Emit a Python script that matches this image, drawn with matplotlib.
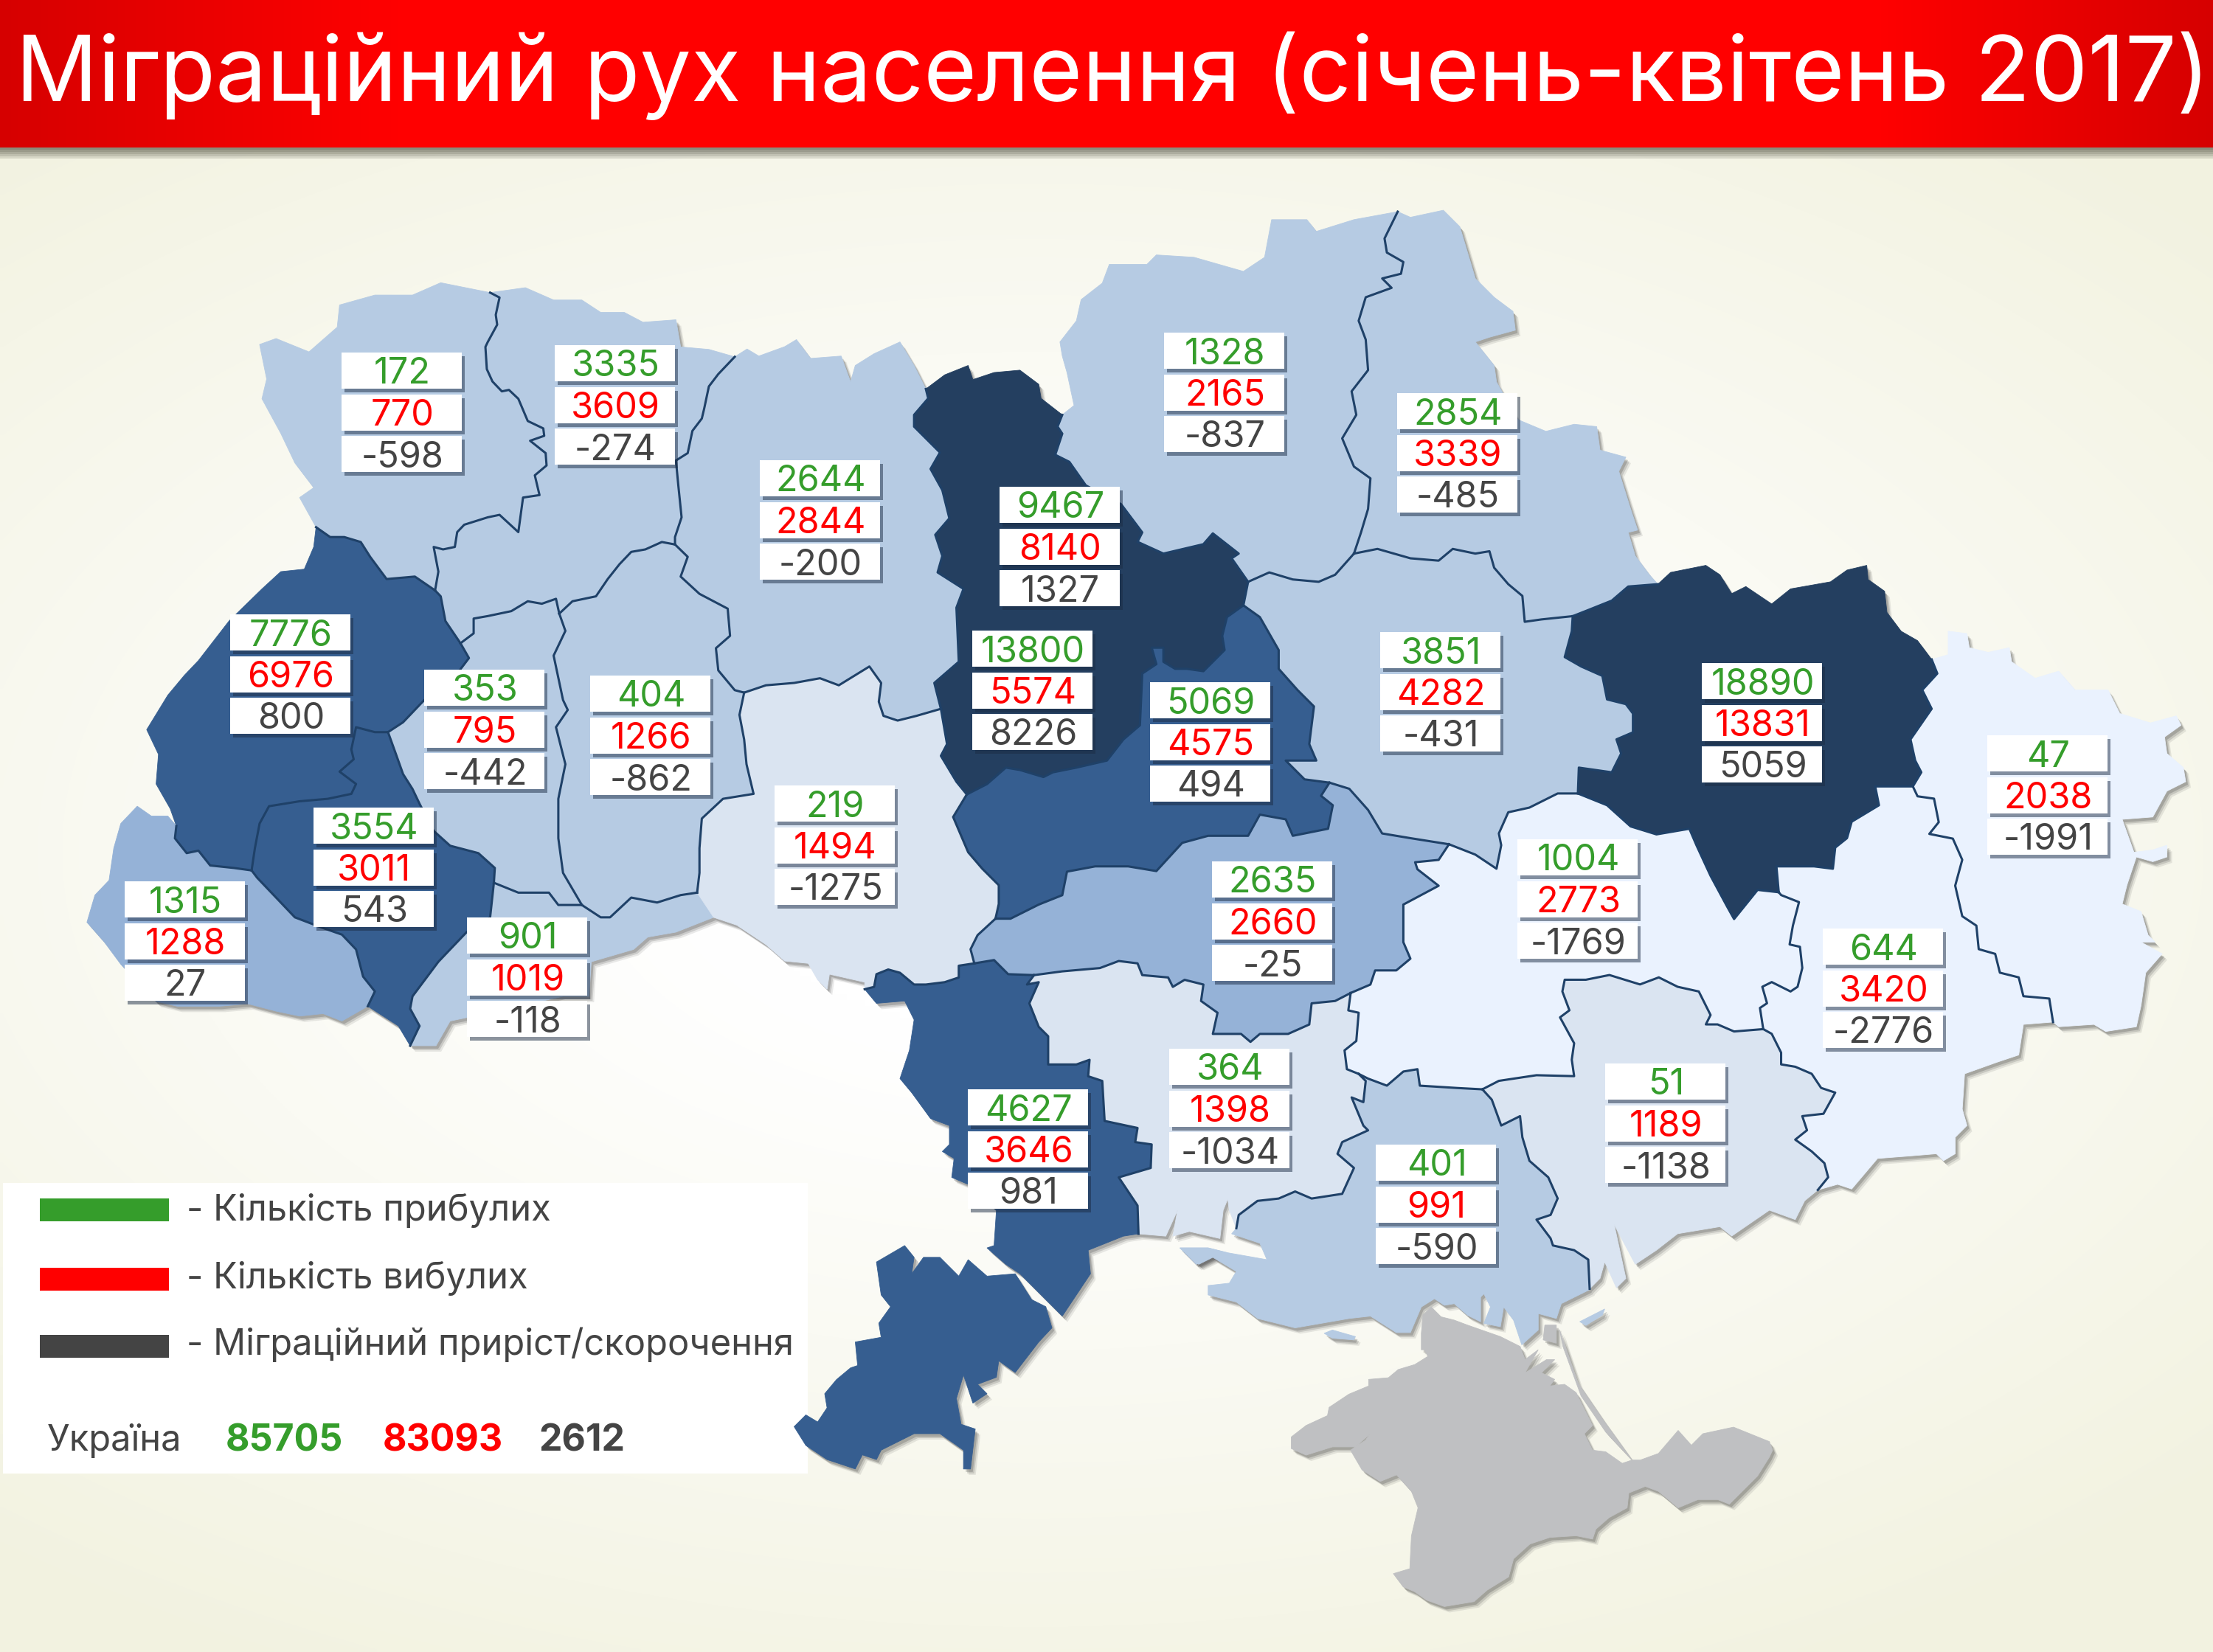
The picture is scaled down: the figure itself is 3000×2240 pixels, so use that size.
import numpy as np
import matplotlib
matplotlib.use('Agg')
import matplotlib.pyplot as plt
from matplotlib.patches import Polygon, Rectangle

FONT = ['Inter', 'DejaVu Sans']
plt.rcParams['font.family'] = FONT

title = 'Міграційний рух населення (січень-квітень 2017)'
legend_labels = ['- Кількість прибулих', '- Кількість вибулих', '- Міграційний приріст/скорочення']
ukraine_total = [85705, 83093, 2612]

arrived = [172, 3335, 2644, 9467, 13800, 1328, 2854, 7776, 353, 404, 3554, 1315, 901,
           5069, 219, 2635, 3851, 18890, 47, 1004, 644, 51, 4627, 364, 401]
departed = [770, 3609, 2844, 8140, 5574, 2165, 3339, 6976, 795, 1266, 3011, 1288, 1019,
            4575, 1494, 2660, 4282, 13831, 2038, 2773, 3420, 1189, 3646, 1398, 991]
balance = [-598, -274, -200, 1327, 8226, -837, -485, 800, -442, -862, 543, 27, -118,
           494, -1275, -25, -431, 5059, -1991, -1769, -2776, -1138, 981, -1034, -590]
# top left corner of each label block, in pixels of the picture
label_x = [463, 752, 1030, 1355, 1318, 1578, 1894, 312, 575, 800, 425, 169, 633,
           1559, 1050, 1643, 1871, 2307, 2694, 2057, 2471, 2176, 1312, 1585, 1865]
label_y = [478, 468, 624, 660, 855, 451, 533, 833, 908, 916, 1095, 1195, 1244,
           925, 1065, 1168, 857, 899, 997, 1138, 1259, 1442, 1477, 1422, 1552]

GREEN = '#359d2b'
RED = '#ff0000'
GRAY = '#444444'
NAVY = '#243f60'
MID = '#365e90'
SOFT = '#95b2d7'
LIGHT = '#b6cbe3'
PALE = '#dae4f1'
PALEST = '#eaf2fe'
CRIMEA = '#bfc0c2'
LINE = '#1f4168'

# outlines were traced by hand from crops of the map, each crop has its own scale
Z1 = (100, 380, 1000 / 1568, 1050 / 1568)
Z4 = (1000, 250, 1000 / 1568, 1000 / 1568)
Z5 = (2000, 250, 1000 / 1568, 1000 / 1568)
Z6 = (2000, 1000, 1000 / 1568, 1000 / 1568)
Z7 = (1000, 1150, 1000 / 1568, 1000 / 1568)
Z8 = (1650, 1540, 700 / 1568, 700 / 1568)


def tr(z, pts):
    return [(z[0] + x * z[2], z[1] + y * z[3]) for x, y in pts]


def rev(a):
    return a[::-1]


# west
vol_riv = tr(Z1, [(885, 25), (905, 35), (897, 70), (900, 90), (880, 125), (875, 135), (878, 180), (890, 205), (910, 225), (925, 222), (945, 240), (965, 285), (998, 300), (1000, 315), (970, 325), (1003, 350), (1005, 375), (980, 395), (990, 435), (955, 440), (945, 510), (905, 475), (880, 480), (830, 495), (815, 510), (810, 540), (785, 545), (765, 540), (775, 590), (768, 628)])
vol_lviv = tr(Z1, [(768, 628), (725, 600), (665, 605), (630, 560), (610, 530), (575, 520), (545, 520), (515, 500)])
coast_vol = tr(Z1, [(515, 500), (480, 440), (510, 420), (470, 370), (440, 310), (400, 240), (410, 200), (395, 130), (430, 118), (500, 145), (560, 95), (565, 50), (640, 30), (720, 30), (780, 5), (885, 25)])
coast_riv = tr(Z1, [(885, 25), (960, 15), (1020, 40), (1080, 40), (1120, 65), (1170, 65), (1210, 85), (1280, 80), (1290, 135), (1350, 140), (1405, 155)])
riv_zhy = tr(Z1, [(1405, 155), (1370, 190), (1350, 215), (1340, 260), (1335, 280), (1315, 305), (1305, 350), (1280, 365), (1285, 415), (1292, 480), (1278, 520), (1278, 535)])
riv_khm = tr(Z1, [(1278, 535), (1250, 530), (1215, 545), (1185, 550), (1160, 575), (1135, 605), (1110, 640), (1060, 650), (1032, 675)])
riv_ter = tr(Z1, [(1032, 675), (1025, 645), (995, 655), (965, 650), (930, 670), (880, 680), (850, 685), (850, 715), (822, 735)])
riv_lviv = tr(Z1, [(822, 735), (790, 690), (780, 640), (768, 628)])
lviv_ter = tr(Z1, [(822, 735), (840, 765), (820, 790), (800, 820), (745, 850), (700, 895), (668, 915)])
lviv_if = tr(Z1, [(668, 915), (640, 915), (600, 905), (590, 950), (595, 970), (565, 995), (600, 1020), (590, 1040), (540, 1050), (480, 1055), (415, 1065), (395, 1100), (385, 1150), (378, 1195)])
lviv_zak = tr(Z1, [(378, 1195), (340, 1190), (290, 1185), (265, 1155), (240, 1160), (215, 1130), (218, 1105)])
coast_lviv = tr(Z1, [(218, 1105), (205, 1070), (175, 1020), (180, 960), (155, 910), (200, 840), (235, 800), (265, 770), (330, 690), (400, 625), (440, 590), (490, 585), (510, 540), (515, 500)])
if_ter = tr(Z1, [(668, 915), (685, 960), (700, 1000), (720, 1030), (735, 1060), (765, 1115), (800, 1145), (860, 1160), (895, 1190), (893, 1220)])
if_chv = tr(Z1, [(893, 1220), (885, 1290), (835, 1320), (775, 1380), (720, 1450), (715, 1475), (735, 1510), (715, 1550)])
coast_if = tr(Z1, [(715, 1550), (690, 1510), (625, 1470)])
zak_if = tr(Z1, [(625, 1470), (640, 1440), (615, 1410), (600, 1355), (570, 1325), (525, 1310), (470, 1290), (430, 1250), (390, 1210), (378, 1195)])
coast_zak = tr(Z1, [(218, 1105), (200, 1085), (165, 1085), (135, 1065), (100, 1100), (85, 1150), (75, 1215), (45, 1245), (28, 1300), (65, 1340), (100, 1385), (175, 1460), (220, 1470), (310, 1470), (370, 1465), (430, 1480), (480, 1490), (530, 1485), (570, 1500), (625, 1470)])
ter_khm = tr(Z1, [(1032, 675), (1045, 710), (1020, 760), (1040, 850), (1050, 870), (1025, 905), (1045, 980), (1030, 1050), (1030, 1130), (1040, 1200), (1080, 1265)])
ter_chv = tr(Z1, [(893, 1220), (945, 1240), (990, 1240), (1010, 1240), (1030, 1265), (1080, 1265)])
khm_chv = tr(Z1, [(1080, 1265), (1120, 1290), (1140, 1290), (1185, 1250), (1240, 1260), (1290, 1245), (1325, 1240)])
khm_zhy = tr(Z1, [(1278, 535), (1305, 560), (1290, 600), (1330, 635), (1390, 665), (1395, 720), (1365, 745), (1370, 790), (1405, 830), (1425, 835)])
khm_vin = tr(Z1, [(1425, 835), (1415, 880), (1425, 930), (1430, 980), (1445, 1040), (1380, 1050), (1335, 1090), (1330, 1150), (1330, 1200), (1325, 1240)])
coast_chv = tr(Z1, [(1325, 1240), (1360, 1290), (1280, 1320), (1220, 1330), (1190, 1355), (1100, 1380), (1095, 1450), (1040, 1450), (900, 1480), (800, 1500), (770, 1550), (715, 1550)])

# centre
zhy_vin = tr(Z1, [(1425, 835)]) + tr(Z4, [(60, 1065), (120, 1060), (175, 1050), (215, 1065), (280, 1025), (305, 1060), (300, 1100), (310, 1130), (340, 1140), (380, 1130), (432, 1115)])
zhy_kyiv = tr(Z4, [(432, 1115), (418, 1060), (470, 1015), (465, 900), (480, 860), (425, 825), (435, 790), (420, 745), (450, 710), (435, 650), (410, 605), (430, 570), (375, 515), (375, 490), (405, 455), (400, 435)])
coast_zhy = tr(Z1, [(1405, 155)]) + tr(Z4, [(20, 350), (45, 365), (100, 345), (125, 330), (155, 370), (220, 365), (240, 420), (250, 385), (290, 360), (345, 335), (375, 385), (400, 435)])
coast_kyiv = tr(Z4, [(400, 435), (440, 405), (490, 385), (500, 415), (545, 400), (600, 395), (640, 425), (645, 455), (690, 490)])
coast_chg = tr(Z4, [(690, 490), (715, 470), (700, 400), (690, 365), (685, 335), (720, 290), (730, 245), (775, 210), (790, 170), (870, 170), (890, 150), (970, 155), (1075, 185), (1120, 155), (1135, 75), (1210, 75), (1230, 100), (1310, 75), (1403, 58)])
chg_sumy = tr(Z4, [(1403, 58), (1375, 115), (1380, 145), (1415, 165), (1410, 190), (1370, 200), (1390, 220), (1335, 240), (1320, 290), (1335, 330), (1340, 395), (1305, 440), (1315, 490), (1285, 540), (1310, 600), (1345, 625), (1340, 690), (1325, 740), (1310, 785)])
chg_pol = tr(Z4, [(1310, 785), (1270, 830), (1235, 845), (1180, 840), (1130, 825), (1085, 845)])
kyiv_chg = tr(Z4, [(690, 490), (680, 515), (690, 530), (675, 575), (705, 590), (740, 640), (815, 680), (860, 740), (850, 760), (905, 785), (990, 765), (1010, 742), (1065, 785), (1050, 795), (1085, 845)])
kyiv_pol = tr(Z4, [(1085, 845), (1075, 895)])
kyiv_cher = tr(Z4, [(1075, 895), (1040, 920), (1030, 960), (1035, 990), (990, 1035), (955, 1030), (930, 1030), (905, 1015), (905, 985), (880, 985), (890, 1020), (860, 1040), (855, 1150), (820, 1180), (785, 1225), (720, 1240), (670, 1250), (650, 1260), (600, 1245), (570, 1240), (530, 1275), (487, 1297)])
kyiv_vin = tr(Z4, [(432, 1115), (445, 1190), (432, 1215), (465, 1270), (487, 1297)])
cher_vin = tr(Z4, [(487, 1297), (458, 1345), (490, 1420), (520, 1455), (555, 1490), (555, 1530)]) + tr(Z7, [(548, 150)])
cher_kir = tr(Z7, [(548, 150), (580, 150), (640, 120), (690, 100), (700, 50)]) + tr(Z4, [(760, 1450), (830, 1450), (890, 1460), (945, 1400), (1000, 1385), (1085, 1385), (1110, 1340), (1165, 1350), (1180, 1385), (1255, 1370), (1265, 1320), (1240, 1300), (1258, 1272)])
cher_pol = tr(Z4, [(1258, 1272), (1205, 1265), (1165, 1225), (1230, 1225), (1215, 1190), (1225, 1110), (1190, 1075), (1150, 1030), (1150, 990), (1110, 920), (1075, 895)])
pol_kir = tr(Z4, [(1258, 1272), (1300, 1285), (1340, 1330), (1370, 1380), (1430, 1390), (1512, 1403)])
pol_dni = tr(Z4, [(1512, 1403)]) + tr(Z5, [(0, 1425), (45, 1455), (55, 1405), (50, 1380), (70, 1335), (115, 1325), (175, 1295), (218, 1295)])
pol_kha = tr(Z5, [(218, 1295), (220, 1240), (290, 1250), (310, 1210), (300, 1180), (335, 1165), (335, 1125), (320, 1105), (280, 1095), (270, 1045), (225, 1025), (190, 1005), (205, 950), (207, 918)])
sumy_pol = tr(Z5, [(207, 918), (140, 925), (105, 930), (100, 875), (70, 850), (40, 815), (30, 780), (0, 785)]) + tr(Z4, [(1520, 775), (1490, 800), (1430, 795), (1360, 775), (1310, 785)])
coast_sumy = tr(Z4, [(1403, 58), (1430, 70), (1500, 55), (1535, 90)]) + tr(Z5, [(0, 200), (40, 240), (80, 270), (85, 310), (30, 325), (0, 335), (40, 385), (45, 420), (90, 500), (150, 525), (210, 510), (258, 515), (265, 565), (320, 580), (305, 610), (330, 690), (345, 735), (325, 740), (340, 790), (370, 830), (388, 850)])
sumy_kha = tr(Z5, [(388, 850), (325, 855), (290, 885), (240, 905), (207, 918)])

# east
coast_kha = tr(Z5, [(388, 850), (415, 825), (490, 810), (520, 830), (545, 870), (575, 855), (630, 892), (670, 860), (755, 845), (790, 820), (832, 810), (835, 840), (870, 865), (875, 910), (905, 950), (940, 970), (970, 1010)])
kha_lug = tr(Z5, [(970, 1010), (982, 1040), (950, 1075), (970, 1115), (925, 1180), (935, 1225), (948, 1250), (930, 1280)])
kha_don = tr(Z5, [(930, 1280), (850, 1280), (858, 1320), (800, 1355), (790, 1390), (765, 1410), (760, 1455), (720, 1450), (640, 1450), (645, 1505)])
kha_dni = tr(Z5, [(645, 1505), (600, 1500), (550, 1562), (535, 1535), (500, 1470), (470, 1405), (455, 1370), (385, 1382), (330, 1365), (280, 1320), (218, 1295)])
coast_lug = tr(Z5, [(970, 1010), (1005, 1000), (1005, 950), (1045, 955), (1050, 985), (1090, 995), (1135, 985), (1140, 1015), (1190, 1050), (1240, 1035), (1275, 1075), (1345, 1075), (1370, 1125), (1435, 1145), (1490, 1130), (1500, 1150), (1465, 1175), (1470, 1210), (1505, 1240), (1510, 1270), (1470, 1290), (1440, 1345), (1375, 1350), (1400, 1420), (1440, 1415), (1470, 1405), (1470, 1430), (1440, 1440), (1405, 1430), (1385, 1490), (1375, 1530)]) + tr(Z6, [(1415, 370), (1430, 420), (1445, 435), (1415, 435), (1460, 460), (1425, 500), (1415, 570), (1405, 615), (1340, 625), (1315, 610), (1240, 615), (1228, 605)])
lug_don = tr(Z6, [(1228, 605), (1220, 555), (1165, 550), (1155, 510), (1115, 500), (1105, 460), (1070, 450), (1065, 400), (1035, 380), (1020, 315), (1035, 260), (1015, 215), (965, 205), (985, 180), (975, 130), (940, 125), (930, 104)])
coast_don = tr(Z6, [(1228, 605), (1165, 610), (1155, 675), (1110, 690), (1040, 715), (1035, 790), (1045, 825), (1020, 850), (1020, 885), (995, 900), (980, 885), (920, 890), (855, 895), (800, 960), (770, 950), (728, 962)])
don_zap = tr(Z6, [(728, 962), (750, 935), (742, 905), (715, 880), (680, 855), (705, 835), (695, 805), (740, 800), (765, 755), (735, 745), (715, 715), (680, 700), (650, 695), (650, 670), (630, 630), (612, 620)])
don_dni = tr(Z6, [(612, 620), (605, 575), (620, 565), (610, 530), (630, 520), (670, 540), (685, 530), (695, 490), (690, 445), (668, 440), (675, 400), (688, 350), (650, 335), (645, 329)])
dni_zap = tr(Z6, [(612, 620), (550, 625), (515, 610), (490, 610), (500, 590), (475, 540), (430, 530), (390, 510), (350, 525), (285, 505), (235, 515), (190, 515), (185, 540), (200, 580), (180, 595), (210, 650), (205, 685), (210, 720), (130, 718), (50, 730), (15, 748)])
dni_khe = tr(Z6, [(15, 748)]) + tr(Z7, [(1530, 510), (1450, 505), (1445, 470), (1415, 475), (1380, 505), (1340, 490), (1320, 480)])
dni_myk = tr(Z7, [(1320, 480), (1295, 470), (1290, 430), (1315, 410), (1320, 350), (1298, 345), (1303, 308)])
kir_dni = tr(Z7, [(1303, 308), (1345, 290), (1355, 260), (1400, 260), (1430, 235), (1415, 200), (1415, 120), (1490, 80), (1445, 45), (1440, 30), (1490, 25)]) + tr(Z4, [(1512, 1403)])
kir_myk = tr(Z7, [(1303, 308), (1270, 325), (1220, 330), (1215, 375), (1170, 395), (1110, 395), (1090, 412), (1070, 395), (1010, 395), (1020, 350), (985, 325), (990, 290), (950, 280), (925, 295), (915, 275), (860, 270), (850, 245), (810, 240), (770, 255), (690, 262), (630, 270)])
kir_ode = tr(Z7, [(630, 270), (575, 268), (545, 238), (503, 245)])
kir_vin = tr(Z7, [(548, 150), (510, 185), (495, 215), (503, 245)])

# south
vin_ode = tr(Z7, [(503, 245), (470, 250), (470, 275), (440, 285), (400, 290), (375, 290), (345, 265), (320, 258), (295, 268), (290, 295), (270, 300)])
coast_vin = tr(Z7, [(270, 300), (270, 285), (195, 268), (190, 300), (170, 280), (150, 245), (100, 240), (60, 205), (0, 165)]) + tr(Z1, [(1410, 1306), (1360, 1290), (1325, 1240)])
coast_ode = tr(Z7, [(270, 300), (295, 330), (355, 325), (375, 365), (365, 430), (345, 490), (370, 520), (410, 575), (450, 590), (450, 630), (435, 645), (460, 660), (455, 700), (490, 715), (550, 770), (545, 845), (530, 850), (570, 885), (600, 905), (640, 945), (660, 965), (690, 995), (750, 905), (745, 855), (820, 825), (852, 820)])
ode_myk = tr(Z7, [(630, 270), (615, 290), (640, 285), (620, 330), (640, 380), (660, 400), (660, 460), (720, 460), (748, 450), (745, 485), (775, 495), (780, 580), (850, 595), (845, 625), (880, 630), (878, 680), (810, 700), (850, 760), (852, 820)])
coast_myk = tr(Z7, [(852, 820), (910, 825), (935, 770), (925, 825), (960, 815), (1025, 830), (1032, 770), (1050, 725), (1035, 695), (1045, 770), (1060, 808)])
khe_myk = tr(Z7, [(1320, 480), (1335, 495), (1330, 540), (1305, 530), (1330, 590), (1340, 600), (1285, 625), (1275, 650), (1310, 680), (1285, 735), (1220, 745), (1185, 730), (1150, 745), (1105, 750), (1065, 780), (1060, 808)])
coast_khe = tr(Z7, [(1060, 808), (1050, 820), (1110, 840), (1125, 875), (1040, 860), (1000, 850), (940, 850), (980, 885), (1010, 870), (1060, 900), (1045, 925), (1000, 930), (1000, 950), (1060, 965), (1105, 1000), (1185, 1020), (1300, 1000), (1345, 995), (1400, 1030), (1430, 1030)]) + tr(Z8, [(620, 520), (660, 495), (690, 515), (720, 510), (760, 545), (800, 565), (800, 490), (810, 480), (830, 520), (810, 570), (860, 580), (870, 520), (900, 560), (925, 635), (975, 590), (975, 540), (1030, 555), (1045, 510), (1130, 468)])
khe_zap = tr(Z6, [(15, 748), (35, 770), (55, 825), (95, 805), (100, 850), (115, 900), (155, 935), (175, 980), (160, 1015), (130, 1025), (160, 1065), (165, 1080), (210, 1090), (240, 1110), (243, 1172)])
coast_zap = tr(Z6, [(243, 1172), (265, 1150), (275, 1115), (300, 1170), (320, 1150), (295, 1035), (340, 1120), (385, 1090), (430, 1055), (520, 1040), (545, 1060), (625, 1005), (680, 1025), (700, 985), (728, 962)])

budjak = tr(Z7, [(295, 880), (355, 845), (375, 870), (370, 905), (395, 870), (430, 870), (470, 910), (490, 875), (530, 910), (590, 905), (625, 960), (655, 975), (668, 1020), (640, 1050), (590, 1115), (555, 1090), (550, 1125), (510, 1140), (530, 1160), (500, 1180), (480, 1120), (465, 1170), (475, 1225), (505, 1235), (495, 1320), (480, 1320), (480, 1280), (430, 1245), (375, 1245), (305, 1280), (295, 1300), (265, 1290), (250, 1320), (190, 1300), (145, 1270), (120, 1230), (145, 1205), (170, 1220), (190, 1190), (185, 1160), (210, 1130), (240, 1105), (255, 1100), (250, 1050), (305, 1040), (300, 1010), (325, 975), (305, 950)])
crimea = tr(Z8, [(625, 545), (650, 520), (680, 550), (720, 560), (760, 575), (860, 610), (920, 640), (935, 680), (975, 650), (935, 720), (1000, 680), (1025, 680), (985, 720), (1025, 740), (1010, 760), (1055, 755), (1090, 780), (1140, 880), (1115, 905), (1140, 955), (1180, 960), (1230, 995), (1260, 985), (1285, 985), (1340, 965), (1400, 895), (1440, 940), (1475, 905), (1568, 885)]) + tr(Z6, [(625, 1497), (632, 1515), (625, 1530), (600, 1570), (570, 1600), (540, 1630)]) + tr(Z8, [(1520, 1105), (1460, 1105), (1400, 1130), (1340, 1080), (1300, 1065), (1250, 1085), (1245, 1130), (1190, 1160), (1150, 1195), (1140, 1225), (1090, 1215), (1010, 1220), (950, 1240), (900, 1285), (885, 1340), (820, 1380), (780, 1415), (720, 1425), (690, 1430), (635, 1410), (600, 1385), (565, 1370), (535, 1330), (585, 1315), (590, 1215), (610, 1130), (590, 1080), (545, 1030), (495, 1050), (440, 1015), (405, 955), (450, 925), (465, 905), (420, 945), (350, 945), (270, 970), (225, 950), (225, 915), (270, 880), (335, 850), (340, 825), (400, 785), (460, 760), (460, 740), (520, 735), (550, 710), (600, 695), (640, 670), (630, 650), (620, 650), (620, 600)])
arabat = tr(Z8, [(1040, 590), (1095, 750), (1170, 860), (1260, 985), (1180, 900), (1105, 790), (1050, 640)])
crimea_bit = tr(Z8, [(990, 620), (995, 575), (1030, 575), (1030, 630)])
isle_a = tr(Z8, [(325, 600), (350, 590), (420, 610), (415, 620), (350, 615)])
isle_b = tr(Z6, [(222, 1242), (275, 1215), (270, 1228), (235, 1250)])
isle_c = tr(Z7, [(940, 850), (1000, 850), (1040, 860), (1005, 870), (975, 885)])

regions = [
    (vol_riv + vol_lviv + coast_vol, LIGHT),
    (coast_riv + riv_zhy + riv_khm + riv_ter + riv_lviv + rev(vol_riv), LIGHT),
    (rev(riv_lviv) + lviv_ter + lviv_if + lviv_zak + coast_lviv + rev(vol_lviv), MID),
    (if_ter + if_chv + coast_if + zak_if + rev(lviv_if), MID),
    (lviv_zak + coast_zak + zak_if, SOFT),
    (rev(riv_ter) + ter_khm + rev(ter_chv) + rev(if_ter) + rev(lviv_ter), LIGHT),
    (rev(riv_khm) + khm_zhy + khm_vin + rev(khm_chv) + rev(ter_khm), LIGHT),
    (ter_chv + khm_chv + coast_chv + rev(if_chv), LIGHT),
    (rev(riv_zhy) + coast_zhy + rev(zhy_kyiv) + rev(zhy_vin) + rev(khm_zhy), LIGHT),
    (zhy_vin + kyiv_vin + cher_vin + kir_vin + vin_ode + coast_vin + rev(khm_vin), PALE),
    (coast_kyiv + kyiv_chg + kyiv_pol + kyiv_cher + rev(kyiv_vin) + zhy_kyiv, NAVY),
    (coast_chg + chg_sumy + chg_pol + rev(kyiv_chg), LIGHT),
    (coast_sumy + sumy_kha + sumy_pol + rev(chg_sumy), LIGHT),
    (rev(sumy_pol) + rev(pol_kha) + rev(pol_dni) + rev(pol_kir) + cher_pol + rev(kyiv_pol) + rev(chg_pol), LIGHT),
    (kyiv_cher + cher_vin + cher_kir + cher_pol, MID),
    (rev(cher_kir) + kir_vin + rev(kir_ode) + rev(kir_myk) + kir_dni + rev(pol_kir), SOFT),
    (coast_kha + kha_lug + kha_don + kha_dni + pol_kha + rev(sumy_kha), NAVY),
    (coast_lug + lug_don + rev(kha_lug), PALEST),
    (rev(lug_don) + coast_don + don_zap + don_dni + rev(kha_don), PALEST),
    (rev(don_dni) + dni_zap + dni_khe + dni_myk + kir_dni + pol_dni + rev(kha_dni), PALEST),
    (rev(dni_zap) + rev(don_zap) + rev(coast_zap) + rev(khe_zap), PALE),
    (rev(dni_khe) + khe_zap + rev(coast_khe) + rev(khe_myk), LIGHT),
    (dni_myk + kir_myk + ode_myk + coast_myk + rev(khe_myk), PALE),
    (kir_ode + vin_ode + coast_ode + rev(ode_myk), MID),
    (budjak, MID),
    (crimea, CRIMEA),
    (arabat, CRIMEA),
    (crimea_bit, CRIMEA),
    (isle_a, LIGHT),
    (isle_b, LIGHT),
    (isle_c, LIGHT),
]

borders = [vol_riv, vol_lviv, riv_zhy, riv_khm, riv_ter, riv_lviv, lviv_ter, lviv_if, lviv_zak,
           if_ter, if_chv, zak_if, ter_khm, ter_chv, khm_chv, khm_zhy, khm_vin, zhy_vin, zhy_kyiv,
           chg_sumy, chg_pol, kyiv_chg, kyiv_pol, kyiv_cher, kyiv_vin, cher_vin, cher_kir, cher_pol,
           pol_kir, pol_dni, pol_kha, sumy_pol, sumy_kha, kha_lug, kha_don, kha_dni, lug_don,
           don_zap, don_dni, dni_zap, dni_khe, dni_myk, kir_dni, kir_myk, kir_ode, kir_vin,
           vin_ode, ode_myk, khe_myk, khe_zap]

fig = plt.figure(figsize=(15, 11.2), dpi=200)
ax = fig.add_axes([0, 0, 1, 1])
ax.set_xlim(0, 3000)
ax.set_ylim(2240, 0)
ax.axis('off')

# page background, white in the middle and beige towards the corners
yy, xx = np.mgrid[0:2240:8, 0:3000:8]
d = np.clip(np.hypot((xx - 1400) / 1750, (yy - 1150) / 1000) - 0.25, 0, 1) ** 1.1
bg = np.dstack([1 - d * 0.05, 1 - d * 0.05, 1 - d * 0.12])
ax.imshow(bg, extent=[0, 3000, 2240, 0], aspect='auto', zorder=0, interpolation='bilinear')

# title band
tx = np.linspace(0, 1, 600)
shade = np.clip(np.maximum(1 - tx / 0.18, (tx - 0.85) / 0.15), 0, 1)
band = np.dstack([(1 - 0.16 * shade)[None, :], np.zeros((1, 600)), np.zeros((1, 600))])
for i in range(5):
    ax.add_patch(Rectangle((0, 200), 3000, 3 + i * 3, fc='#333322', alpha=0.14, lw=0, zorder=5))
ax.imshow(band, extent=[0, 3000, 200, 0], aspect='auto', zorder=6)
ax.set_xlim(0, 3000)
ax.set_ylim(2240, 0)
ax.text(21, 137, title, color='white', fontsize=44.5, ha='left', va='baseline', zorder=7)

# map
for pts, col in regions:
    arr = np.array(pts)
    for off, alpha in [(7, 0.10), (5, 0.16), (3, 0.22)]:
        ax.add_patch(Polygon(arr + [off, off + 1], closed=True, fc='#303030', ec='none', alpha=alpha, zorder=10))
for pts, col in regions:
    ax.add_patch(Polygon(pts, closed=True, fc=col, ec=col, lw=0.3, zorder=11))
for arc in borders:
    arr = np.array(arc)
    ax.plot(arr[:, 0], arr[:, 1], color=LINE, lw=1.1, solid_joinstyle='round', zorder=12)

# value blocks
BOX_W, BOX_H, STEP = 163, 49, 56.5
for i in range(len(arrived)):
    rows = [(arrived[i], GREEN), (departed[i], RED), (balance[i], GRAY)]
    for k, (val, col) in enumerate(rows):
        top = label_y[i] + k * STEP
        ax.add_patch(Rectangle((label_x[i] + 4, top + 5), BOX_W, BOX_H, fc='#1c2c44', alpha=0.5, lw=0, zorder=20))
        ax.add_patch(Rectangle((label_x[i], top), BOX_W, BOX_H, fc='white', lw=0, zorder=21))
        ax.text(label_x[i] + BOX_W / 2 + 1, top + BOX_H / 2 + 18, str(val), color=col, fontsize=17.5,
                ha='center', va='baseline', zorder=22)

# legend block
ax.add_patch(Rectangle((4, 1604), 1091, 394, fc='white', lw=0, zorder=8))
for y, col, label, base in zip([1625, 1719, 1810], [GREEN, RED, GRAY], legend_labels, [1655, 1747, 1837]):
    ax.add_patch(Rectangle((54, y), 175, 31, fc=col, lw=0, zorder=30))
    ax.text(253, base, label, color=GRAY, fontsize=17.6, ha='left', va='baseline', zorder=30)
ax.text(64, 1967, 'Україна', color=GRAY, fontsize=17.6, ha='left', va='baseline', zorder=30)
for x, val, col in zip([306, 519, 730], ukraine_total, [GREEN, RED, GRAY]):
    ax.text(x, 1967, str(val), color=col, fontsize=18, ha='left', va='baseline', fontweight='bold', zorder=30)

fig.savefig('out.png', dpi=200)
